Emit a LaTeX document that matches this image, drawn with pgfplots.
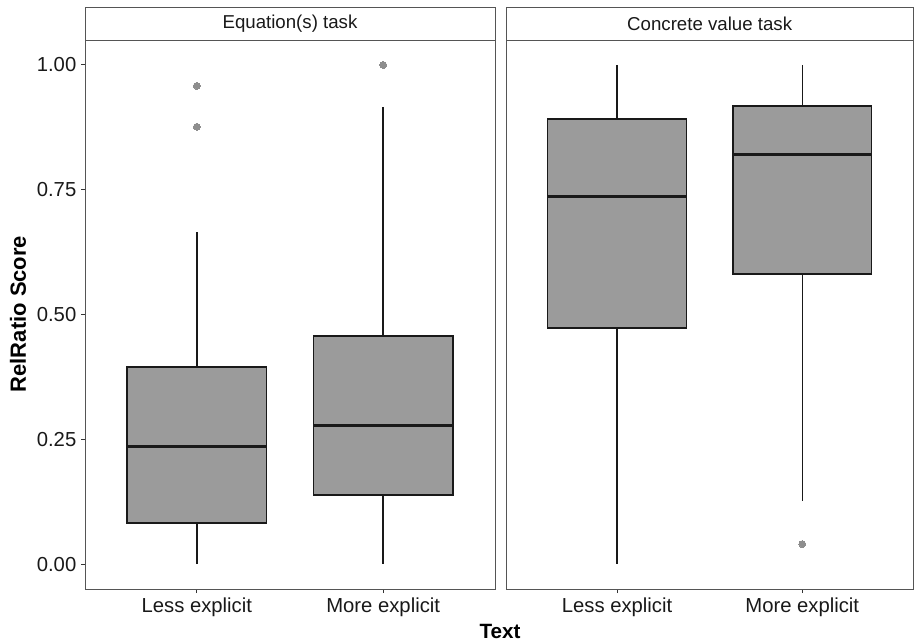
\documentclass[border=0pt]{standalone}
\usepackage{pgfplots}
\pgfplotsset{compat=1.18}
\usepgfplotslibrary{statistics}
\usepackage{fontspec}
\setmainfont{Liberation Sans}
\definecolor{boxfill}{HTML}{9B9B9B}
\definecolor{frame}{HTML}{555555}
\definecolor{tickc}{HTML}{333333}
\definecolor{outl}{HTML}{8E8E8E}
\begin{document}
\begin{tikzpicture}
\useasboundingbox (0pt,0pt) rectangle (685.5pt,482.25pt);
\pgfplotsset{
  panel/.style={
    scale only axis, height=411.75pt,
    ymin=-0.05, ymax=1.05, xmin=0.4, xmax=2.6,
    axis line style={draw=frame, line width=0.7pt},
    tick align=outside, tick pos=left,
    major tick length=3pt,
    major tick style={draw=tickc, line width=0.7pt},
    xtick={1,2}, xticklabels={Less explicit, More explicit},
    ticklabel style={font=\fontsize{15.2}{18}\selectfont, text=black!90},
    /pgf/number format/assume math mode=true,
    boxplot/draw direction=y,
    boxplot/box extend=0.75,
    boxplot/whisker extend=0,
    boxplot/every median/.style={line width=2.3pt},
  },
  bx/.style={draw=black!90, fill=boxfill, line width=1.1pt, mark=*,
    mark size=2.6pt, mark options={fill=outl, draw=outl, line width=0pt}},
}
\begin{axis}[panel, name=ax1, at={(63.75pt,40.5pt)}, anchor=south west, width=307.5pt,
  ytick={0,0.25,0.5,0.75,1},
  yticklabel style={/pgf/number format/.cd, fixed, fixed zerofill, precision=2},
  ]
\addplot[bx, boxplot prepared={draw position=1, lower whisker=0, lower quartile=0.082,
  median=0.236, upper quartile=0.395, upper whisker=0.665}]
  table[row sep=\\, y index=0] {0.958\\ 0.876\\};
\addplot[bx, boxplot prepared={draw position=2, lower whisker=0, lower quartile=0.138,
  median=0.277, upper quartile=0.457, upper whisker=0.916}]
  table[row sep=\\, y index=0] {1.0\\};
\end{axis}
\begin{axis}[panel, name=ax2, at={(379.5pt,40.5pt)}, anchor=south west, width=305.5pt,
  ytick=\empty,
  ]
\addplot[bx, boxplot prepared={draw position=1, lower whisker=0, lower quartile=0.473,
  median=0.737, upper quartile=0.892, upper whisker=1.0}]
  coordinates {};
\addplot[bx, boxplot prepared={draw position=2, lower whisker=0.126, lower quartile=0.581,
  median=0.820, upper quartile=0.918, upper whisker=1.0}]
  table[row sep=\\, y index=0] {0.040\\};
\end{axis}
% facet strips
\draw[frame, line width=0.7pt] (ax1.north west) rectangle ([yshift=24.75pt]ax1.north east);
\draw[frame, line width=0.7pt] (ax2.north west) rectangle ([yshift=24.75pt]ax2.north east);
\node[font=\fontsize{14}{16}\selectfont, text=black!90] at ([yshift=12.375pt]ax1.north) {Equation(s) task};
\node[font=\fontsize{14}{16}\selectfont, text=black!90] at ([yshift=12.375pt]ax2.north) {Concrete value task};
% axis titles
\node[font=\fontsize{16.5}{19}\selectfont\bfseries, rotate=90] at (13.5pt,246.75pt) {RelRatio Score};
\node[font=\fontsize{15.5}{18}\selectfont\bfseries] at (375pt,9pt) {Text};
\end{tikzpicture}
\end{document}
